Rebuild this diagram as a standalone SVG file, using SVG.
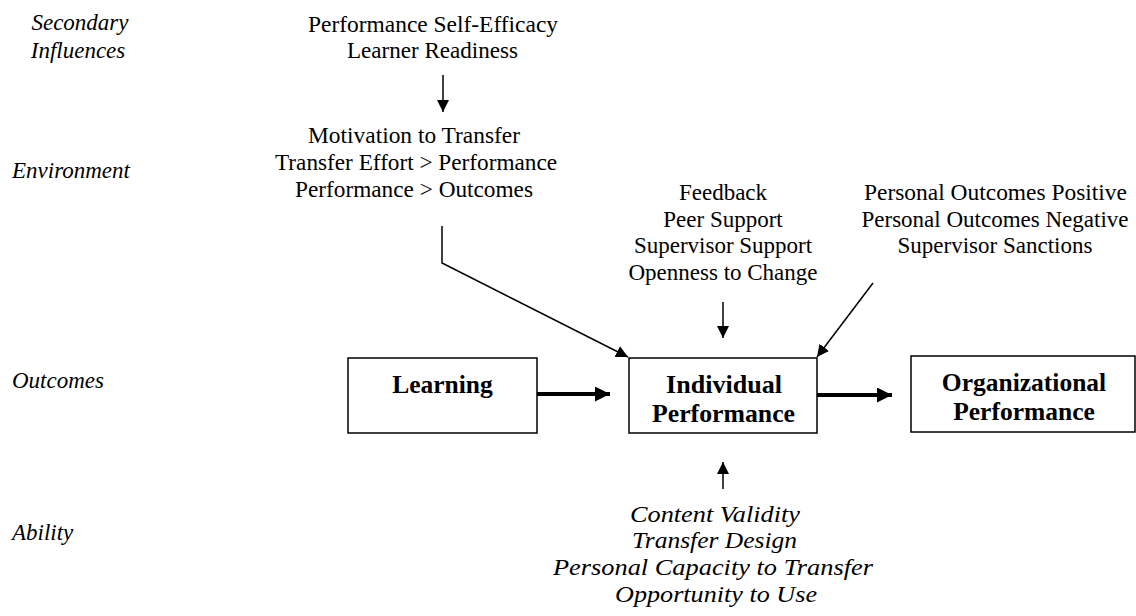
<svg xmlns="http://www.w3.org/2000/svg" width="1136" height="616" viewBox="0 0 1136 616">
<style>
.t{font-family:'Liberation Serif','Times New Roman',serif;font-size:23px;fill:#000;text-anchor:middle}
.i{font-style:italic}
.l{text-anchor:start}
.b{font-weight:bold;font-size:25.5px}
.box{fill:#fff;stroke:#000;stroke-width:1.5}
.c{stroke:#000;fill:none;stroke-width:1.5}
.k{stroke:#000;fill:none;stroke-width:4}
</style>
<defs>
<marker id="a" markerUnits="userSpaceOnUse" markerWidth="14" markerHeight="14" refX="12" refY="6" orient="auto">
<path d="M0,0 L12,6 L0,12 z" fill="#000"/>
</marker>
<marker id="ak" markerUnits="userSpaceOnUse" markerWidth="18" markerHeight="18" refX="15" refY="7.5" orient="auto">
<path d="M0,0 L15,7.5 L0,15 z" fill="#000"/>
</marker>
</defs>
<g id="labels">
<text class="t i" x="80" y="30">Secondary</text>
<text class="t i" x="78" y="58">Influences</text>
<text class="t i l" x="12" y="178">Environment</text>
<text class="t i l" x="12" y="388">Outcomes</text>
<text class="t i l" x="12" y="540">Ability</text>
</g>
<g id="secondary">
<text class="t" x="433" y="31.5" textLength="250" lengthAdjust="spacingAndGlyphs">Performance Self-Efficacy</text>
<text class="t" x="432.5" y="58.2" textLength="171" lengthAdjust="spacingAndGlyphs">Learner Readiness</text>
</g>
<g id="motivation">
<text class="t" x="414" y="143" textLength="212" lengthAdjust="spacingAndGlyphs">Motivation to Transfer</text>
<text class="t" x="416" y="170" textLength="282" lengthAdjust="spacingAndGlyphs">Transfer Effort &gt; Performance</text>
<text class="t" x="414" y="197" textLength="238" lengthAdjust="spacingAndGlyphs">Performance &gt; Outcomes</text>
</g>
<g id="environment">
<text class="t" x="723" y="200">Feedback</text>
<text class="t" x="723" y="227">Peer Support</text>
<text class="t" x="723" y="253">Supervisor Support</text>
<text class="t" x="723" y="280">Openness to Change</text>
</g>
<g id="outcomesFactors">
<text class="t" x="995.5" y="200" textLength="263" lengthAdjust="spacingAndGlyphs">Personal Outcomes Positive</text>
<text class="t" x="995" y="227">Personal Outcomes Negative</text>
<text class="t" x="995" y="253">Supervisor Sanctions</text>
</g>
<g id="learning">
<rect class="box" x="348" y="358" width="189" height="75"/>
<text class="t b" x="442.5" y="393">Learning</text>
</g>
<g id="individual">
<rect class="box" x="629" y="358" width="188" height="75"/>
<text class="t b" x="724" y="393" textLength="116" lengthAdjust="spacingAndGlyphs">Individual</text>
<text class="t b" x="723.5" y="422" textLength="143" lengthAdjust="spacingAndGlyphs">Performance</text>
</g>
<g id="organizational">
<rect class="box" x="911" y="356" width="224" height="76"/>
<text class="t b" x="1024" y="391">Organizational</text>
<text class="t b" x="1024" y="420">Performance</text>
</g>
<g id="ability" font-size="24">
<text class="t i" style="font-size:24px" x="715" y="522" textLength="170" lengthAdjust="spacingAndGlyphs">Content Validity</text>
<text class="t i" style="font-size:24px" x="714.5" y="548" textLength="165" lengthAdjust="spacingAndGlyphs">Transfer Design</text>
<text class="t i" style="font-size:24px" x="713" y="575" textLength="320" lengthAdjust="spacingAndGlyphs">Personal Capacity to Transfer</text>
<text class="t i" style="font-size:24px" x="716" y="602" textLength="202" lengthAdjust="spacingAndGlyphs">Opportunity to Use</text>
</g>
<g id="connectors">
<line class="c" x1="443" y1="75" x2="443" y2="112" marker-end="url(#a)"/>
<polyline class="c" points="442,226 442,263 628,357" marker-end="url(#a)"/>
<line class="c" x1="723" y1="302" x2="723" y2="338" marker-end="url(#a)"/>
<line class="c" x1="873" y1="283" x2="817" y2="357" marker-end="url(#a)"/>
<line class="c" x1="723" y1="489" x2="723" y2="462" marker-end="url(#a)"/>
<line class="k" x1="537" y1="394" x2="610" y2="394" marker-end="url(#ak)"/>
<line class="k" x1="817" y1="395" x2="892" y2="395" marker-end="url(#ak)"/>
</g>
</svg>
